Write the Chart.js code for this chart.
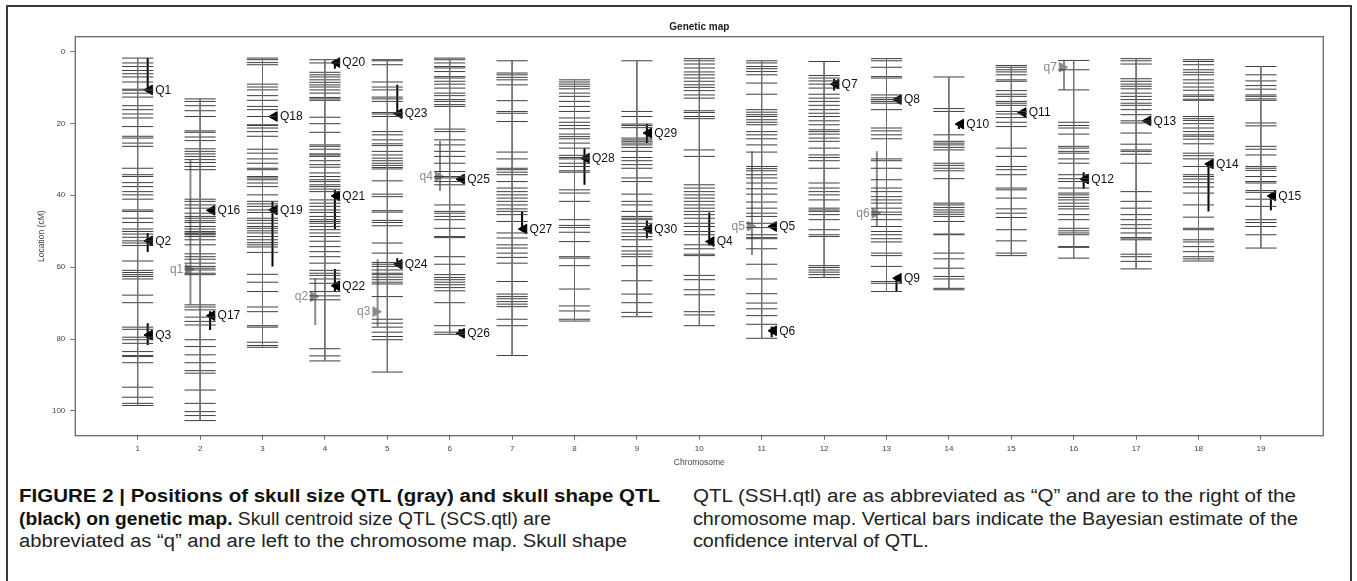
<!DOCTYPE html>
<html>
<head>
<meta charset="utf-8">
<script src="https://cdn.jsdelivr.net/npm/chart.js@4.4.1/dist/chart.umd.min.js"></script>
<style>
  html, body { margin: 0; padding: 0; background: #fff; width: 1357px; height: 581px; overflow: hidden; }
  #frame { position: absolute; left: 6px; top: 5px; width: 1346px; height: 640px; border: 2px solid #3a3a3a; border-bottom: none; box-sizing: border-box; }
  #wrap { position: absolute; left: 0; top: 0; width: 1357px; height: 475px; }
  .cap { position: absolute; white-space: nowrap; font-family: "Liberation Sans", Arial, sans-serif; font-size: 18px; line-height: 22px; color: #222; transform-origin: 0 50%; }
  .cap b { color: #111; }
</style>
</head>
<body>
<div id="frame"></div>
<div id="wrap"><canvas id="c" width="1357" height="475"></canvas></div>
<div class="cap" data-w="641" style="left:19px; top:485px;"><b>FIGURE 2 | Positions of skull size QTL (gray) and skull shape QTL</b></div>
<div class="cap" data-w="532" style="left:19px; top:508px;"><b>(black) on genetic map.</b> Skull centroid size QTL (SCS.qtl) are</div>
<div class="cap" data-w="608" style="left:19px; top:530px;">abbreviated as “q” and are left to the chromosome map. Skull shape</div>
<div class="cap" data-w="603" style="left:693px; top:485px;">QTL (SSH.qtl) are as abbreviated as “Q” and are to the right of the</div>
<div class="cap" data-w="605" style="left:693px; top:508px;">chromosome map. Vertical bars indicate the Bayesian estimate of the</div>
<div class="cap" data-w="same" style="left:693px; top:530px;">confidence interval of QTL.</div>
<script>
// ---------------- data ----------------
const chartTitle = "Genetic map";
const xAxisTitle = "Chromosome";
const yAxisTitle = "Location (cM)";
const chromosomes = [1,2,3,4,5,6,7,8,9,10,11,12,13,14,15,16,17,18,19];
const yTickValues = [0,20,40,60,80,100];

// marker positions (cM) per chromosome
const markersChr1 = [1.85,3.2,4.2,5.3,6.2,7.1,8.5,10.5,10.8,11.6,12.7,15.1,16.2,17.4,18.5,20.9,23.6,24.1,25.5,26.4,32.5,34.3,34.8,36.5,37.6,39.0,39.9,41.1,44.1,44.5,46.4,47.6,49.4,50.1,50.8,51.7,52.7,53.3,54.0,58.3,60.9,61.5,62.1,62.6,63.3,67.8,69.9,76.7,77.3,79.5,80.2,81.2,83.5,84.6,84.9,86.6,93.4,96.2,97.9,98.5];
const markersChr2 = [13.2,13.9,15.1,16.5,18.1,22.1,22.5,23.8,24.8,27.1,27.8,28.5,29.2,30.1,30.9,32.0,32.9,41.1,41.7,42.7,43.6,45.0,45.9,46.4,47.1,47.6,48.7,49.4,50.1,50.5,50.7,51.0,51.5,52.4,53.8,56.3,57.1,57.8,58.9,59.8,60.3,60.8,61.7,62.1,70.5,71.1,71.9,73.9,75.1,76.1,80.2,82.1,84.4,86.6,88.8,89.5,94.2,97.9,100.2,101.3,102.7];
const markersChr3 = [1.85,2.3,3.1,3.7,9.1,9.9,10.7,12.3,13.6,15.3,16.2,18.1,20.4,20.6,21.3,22.3,23.6,27.2,28.3,29.9,31.1,32.5,32.9,34.8,35.2,35.7,36.6,37.6,39.9,41.7,42.4,43.1,44.1,44.8,46.4,47.0,47.8,48.7,49.2,49.9,50.5,51.5,52.4,53.2,53.8,54.4,55.9,62.0,64.2,66.8,71.1,72.4,76.3,76.7,80.9,81.8,82.3];
const markersChr4 = [2.3,3.2,5.8,6.5,7.1,7.9,8.6,9.3,9.9,10.7,11.6,12.8,13.2,13.6,18.3,20.1,22.5,26.0,26.4,27.2,28.5,28.8,29.2,30.4,31.5,32.2,33.8,34.8,35.7,36.2,37.1,37.6,38.3,39.0,41.3,42.2,43.1,44.1,44.8,45.9,46.8,47.3,47.8,48.7,49.6,50.5,51.5,52.8,54.3,55.7,57.1,58.9,60.9,61.7,62.3,63.3,64.5,66.8,68.0,69.1,82.7,84.7,86.1];
const markersChr5 = [2.3,2.6,3.7,8.5,9.9,10.7,12.7,13.2,13.9,17.0,17.4,18.1,22.3,23.2,24.6,25.7,26.2,27.8,28.8,29.7,30.4,31.1,31.7,32.3,32.7,36.0,39.7,40.4,44.3,44.7,47.0,47.6,48.5,53.3,56.1,58.7,59.2,59.8,60.8,61.7,62.1,62.8,63.5,64.2,64.7,68.2,74.5,75.6,76.7,78.1,79.3,80.2,89.2];
const markersChr6 = [1.85,2.3,3.2,4.2,4.6,5.6,7.0,7.4,8.3,9.1,10.2,11.6,12.3,13.4,13.9,14.8,15.3,21.6,22.3,24.6,26.0,27.8,29.2,31.1,33.4,34.8,35.2,36.2,37.1,42.7,44.5,45.0,45.9,46.8,49.2,51.5,51.8,57.1,59.2,62.1,62.9,63.5,64.2,64.9,65.7,66.6,69.9,76.3,78.1,78.7];
const markersChr7 = [2.6,6.0,6.5,7.2,7.9,9.3,13.7,16.7,17.2,19.5,28.0,29.9,32.5,32.9,33.6,34.3,36.2,38.0,39.0,39.9,40.8,41.7,42.7,43.8,44.5,45.4,47.3,50.5,51.9,53.8,54.7,56.1,57.3,58.9,64.0,67.5,68.2,68.8,69.6,70.3,71.0,74.5,76.3,84.6];
const markersChr8 = [7.9,8.5,9.1,9.7,10.4,11.6,12.5,13.9,15.3,16.7,18.5,19.7,20.6,21.5,23.0,23.7,24.3,25.5,26.9,28.9,29.5,29.9,31.1,32.0,33.2,33.6,38.5,39.4,41.7,46.8,48.4,49.0,50.3,52.9,57.1,57.5,59.6,66.1,70.8,72.2,74.5,75.0];
const markersChr9 = [2.6,16.7,18.1,20.2,20.6,21.2,24.1,24.6,25.0,25.5,26.0,26.7,27.8,29.5,30.4,31.5,32.5,35.2,36.2,39.7,41.7,42.7,44.5,45.9,46.4,46.8,47.8,48.7,49.6,50.5,51.5,52.4,54.3,55.5,56.4,57.1,59.6,63.8,67.5,69.9,72.6,73.8];
const markersChr10 = [2.0,2.6,3.5,4.6,5.7,6.5,7.4,8.3,9.3,10.0,10.9,12.1,13.0,16.5,17.0,18.1,18.7,27.4,29.2,37.1,38.0,39.0,39.9,40.8,41.7,42.7,43.6,44.5,45.4,46.4,47.8,48.7,50.1,51.0,53.8,54.9,56.4,56.8,62.3,63.5,66.3,67.7,72.4,73.3,76.3];
const markersChr11 = [2.6,3.2,4.2,4.8,5.6,6.5,8.8,11.9,16.2,16.9,17.6,18.1,19.0,19.7,20.4,22.3,23.2,24.3,26.0,28.0,32.0,32.6,33.2,34.3,35.2,36.6,38.2,39.7,41.9,43.6,45.0,45.9,47.8,49.0,51.0,51.8,52.1,54.9,59.2,63.3,67.4,70.0,71.6,73.5,75.9,79.8];
const markersChr12 = [2.8,6.7,7.4,8.2,9.1,10.2,11.9,13.0,13.9,15.0,16.2,17.2,18.1,19.3,20.4,21.8,22.3,23.0,24.1,25.0,26.9,28.8,29.5,30.4,32.5,36.6,38.0,39.0,39.9,41.3,43.6,44.1,44.5,45.4,46.8,49.6,51.0,51.5,59.6,60.1,60.8,61.4,62.1,62.9];
const markersChr13 = [2.0,2.6,4.4,7.0,7.4,12.1,12.9,13.4,13.9,14.4,16.2,21.3,22.1,23.2,24.3,29.9,30.4,32.5,35.7,38.0,39.0,40.4,41.3,42.2,43.6,44.7,45.4,46.8,48.7,50.1,51.0,52.1,53.0,56.1,56.8,59.8,64.0,64.5,66.8];
const markersChr14 = [7.1,15.9,16.7,23.2,25.0,25.5,26.0,26.7,27.4,31.1,31.7,32.5,33.2,35.4,42.2,42.7,43.4,44.1,44.7,45.3,45.9,47.3,50.8,51.0,56.1,57.7,60.3,62.6,63.3,65.9,66.3];
const markersChr15 = [3.9,4.4,5.1,5.7,6.5,7.9,8.3,10.9,11.9,12.5,13.9,14.4,15.0,16.7,17.4,18.4,19.7,20.9,26.9,29.2,32.0,32.9,34.3,38.0,38.5,40.8,43.8,45.0,46.2,49.6,52.7,56.1,56.8];
const markersChr16 = [2.5,5.1,10.7,19.7,20.6,21.3,23.0,26.4,26.9,27.8,28.3,29.9,31.1,34.3,35.4,36.2,38.0,39.4,39.9,40.6,41.3,42.2,43.1,43.8,45.4,46.8,49.2,49.9,50.5,51.0,54.3,54.5,57.5];
const markersChr17 = [2.0,2.6,3.5,7.6,8.3,9.1,9.7,10.4,11.6,12.5,13.4,14.4,15.0,16.2,17.6,19.3,19.9,22.7,25.8,27.4,27.8,28.6,31.1,39.0,41.7,43.6,45.4,46.8,48.2,49.2,50.5,51.8,51.9,52.4,56.4,57.1,58.4,60.5];
const markersChr18 = [2.3,2.8,3.7,5.1,5.8,6.5,7.9,8.8,9.9,10.8,12.1,12.5,13.3,13.6,18.1,18.7,19.2,20.1,21.3,22.3,23.2,23.6,24.4,25.7,28.3,29.0,29.9,32.0,34.3,34.8,35.5,36.5,37.7,39.4,42.7,46.1,49.2,49.6,52.4,53.0,54.3,55.7,57.1,57.7,58.3];
const markersChr19 = [4.2,6.5,8.2,9.5,10.5,12.1,12.5,13.2,13.6,19.9,20.7,26.4,27.2,28.8,32.0,32.5,33.1,34.8,36.2,36.6,38.7,39.2,41.1,43.1,46.8,47.6,48.7,51.0,54.7];

// skull shape QTL (black, right of map)
const shapeQtlNames = ["Q1","Q2","Q3","Q4","Q5","Q6","Q7","Q8","Q9","Q10","Q11","Q12","Q13","Q14","Q15","Q16","Q17","Q18","Q19","Q20","Q21","Q22","Q23","Q24","Q25","Q26","Q27","Q28","Q29","Q30"];
const shapeQtlChr   = [1,1,1,10,11,11,12,13,13,14,15,16,17,18,19,2,2,3,3,4,4,4,5,5,6,6,7,8,9,9];
const shapeQtlPos   = [10.7,52.7,78.9,52.9,48.7,77.7,9.1,13.4,63.1,20.2,17.0,35.5,19.3,31.3,40.2,44.2,73.5,18.1,44.1,3.1,40.2,65.2,17.3,59.2,35.5,78.4,49.4,29.7,22.7,49.4];
const shapeQtlLow   = [1.85,50.5,75.6,44.8,48.2,76.5,7.7,12.9,62.4,19.7,16.5,33.6,18.8,31.3,40.2,43.6,72.3,17.6,41.7,2.3,38.5,60.5,9.3,57.5,34.8,77.2,44.5,26.9,20.2,47.0];
const shapeQtlHigh  = [10.8,55.8,81.7,54.0,49.2,79.5,10.9,14.0,66.8,21.6,17.5,38.2,19.8,44.5,44.2,44.8,77.5,18.6,59.8,4.8,49.4,66.8,17.3,60.0,36.2,78.7,49.4,37.1,25.5,52.0];

// skull size QTL (gray, left of map)
const sizeQtlNames = ["q1","q2","q3","q4","q5","q6","q7"];
const sizeQtlChr   = [2,4,5,6,11,13,16];
const sizeQtlPos   = [60.6,68.2,72.4,34.8,48.6,45.0,4.4];
const sizeQtlLow   = [30.1,63.1,57.8,24.9,27.8,27.8,2.5];
const sizeQtlHigh  = [70.3,76.1,76.5,38.8,56.6,48.7,10.7];

// ---------------- build ----------------
const markerSets = [markersChr1,markersChr2,markersChr3,markersChr4,markersChr5,markersChr6,markersChr7,markersChr8,markersChr9,markersChr10,markersChr11,markersChr12,markersChr13,markersChr14,markersChr15,markersChr16,markersChr17,markersChr18,markersChr19];

const HALF = 0.25, BAR_R = 0.16, TRI_R = 0.19, LAB_R = 0.28;
const BAR_L = -0.155, TRI_L = -0.185, LAB_L = -0.27;
const GRAY = '#8a8a8a';

const markerData = [], chromData = [];
markerSets.forEach((arr, i) => {
  const c = chromosomes[i];
  arr.forEach(p => { markerData.push({x: c - HALF, y: p}, {x: c + HALF, y: p}, {x: c, y: null}); });
  chromData.push({x: c, y: Math.min(...arr)}, {x: c, y: Math.max(...arr)}, {x: c, y: null});
});
const shapeBars = [], shapeTri = [];
shapeQtlNames.forEach((n, i) => {
  const c = shapeQtlChr[i];
  shapeBars.push({x: c + BAR_R, y: shapeQtlLow[i]}, {x: c + BAR_R, y: shapeQtlHigh[i]}, {x: c, y: null});
  shapeTri.push({x: c + TRI_R, y: shapeQtlPos[i]});
});
const sizeBars = [], sizeTri = [];
sizeQtlNames.forEach((n, i) => {
  const c = sizeQtlChr[i];
  sizeBars.push({x: c + BAR_L, y: sizeQtlLow[i]}, {x: c + BAR_L, y: sizeQtlHigh[i]}, {x: c, y: null});
  sizeTri.push({x: c + TRI_L, y: sizeQtlPos[i]});
});

const FONT = '"Liberation Sans", Arial, Helvetica, sans-serif';

const decor = {
  id: 'decor',
  beforeDatasetsDraw(chart) {
    const {ctx, chartArea: a} = chart;
    ctx.save();
    ctx.strokeStyle = '#6a6a6a';
    ctx.lineWidth = 1.3;
    ctx.strokeRect(a.left, a.top, a.right - a.left, a.bottom - a.top);
    ctx.restore();
  },
  afterDatasetsDraw(chart) {
    const {ctx, chartArea: a, scales: {x, y}} = chart;
    ctx.save();
    ctx.font = 'bold 10px ' + FONT;
    ctx.fillStyle = '#1a1a1a';
    ctx.textAlign = 'center';
    ctx.textBaseline = 'middle';
    ctx.fillText(chartTitle, (a.left + a.right) / 2, 27);
    ctx.font = '12px ' + FONT;
    ctx.textAlign = 'left';
    ctx.fillStyle = '#111';
    shapeQtlNames.forEach((n, i) => {
      ctx.fillText(n, x.getPixelForValue(shapeQtlChr[i] + LAB_R), y.getPixelForValue(shapeQtlPos[i]) + 0.5);
    });
    ctx.textAlign = 'right';
    ctx.fillStyle = GRAY;
    sizeQtlNames.forEach((n, i) => {
      ctx.fillText(n, x.getPixelForValue(sizeQtlChr[i] + LAB_L), y.getPixelForValue(sizeQtlPos[i]) + 0.5);
    });
    ctx.restore();
  }
};

new Chart(document.getElementById('c'), {
  type: 'scatter',
  data: {
    datasets: [
      {data: chromData, showLine: true, spanGaps: false, borderColor: '#6e6e6e', borderWidth: 1, pointRadius: 0},
      {data: markerData, showLine: true, spanGaps: false, borderColor: '#3e3e3e', borderWidth: 1, pointRadius: 0},
      {data: sizeBars, showLine: true, spanGaps: false, borderColor: GRAY, borderWidth: 2, pointRadius: 0},
      {data: shapeBars, showLine: true, spanGaps: false, borderColor: '#000', borderWidth: 2, pointRadius: 0},
      {data: sizeTri, showLine: false, pointStyle: 'triangle', pointRotation: 90, pointRadius: 5.6, pointBackgroundColor: GRAY, pointBorderColor: GRAY, pointBorderWidth: 1},
      {data: shapeTri, showLine: false, pointStyle: 'triangle', pointRotation: 270, pointRadius: 5.6, pointBackgroundColor: '#000', pointBorderColor: '#000', pointBorderWidth: 1}
    ]
  },
  options: {
    responsive: false,
    animation: false,
    devicePixelRatio: 1,
    events: [],
    layout: {padding: {top: 36.7, right: 33.7, left: 0, bottom: 0}},
    plugins: {legend: {display: false}, tooltip: {enabled: false}, title: {display: false}},
    scales: {
      x: {
        type: 'linear', min: 0, max: 20,
        afterBuildTicks: s => { s.ticks = chromosomes.map(v => ({value: v})); },
        afterFit: s => { s.height = 475 - 435.7; },
        grid: {drawOnChartArea: false, drawTicks: true, tickLength: 4, color: '#6a6a6a'},
        border: {display: false},
        ticks: {font: {size: 8, family: FONT}, color: '#444', padding: 4, maxRotation: 0, autoSkip: false},
        title: {display: true, text: xAxisTitle, font: {size: 8.5, family: FONT}, color: '#444', padding: {top: 0, bottom: 7.5}}
      },
      y: {
        type: 'linear', reverse: true, min: -4.1, max: 106.9,
        afterBuildTicks: s => { s.ticks = yTickValues.map(v => ({value: v})); },
        afterFit: s => { s.width = 75.3; },
        grid: {drawOnChartArea: false, drawTicks: true, tickLength: 5, color: '#6a6a6a'},
        border: {display: false},
        ticks: {font: {size: 8, family: FONT}, color: '#444', padding: 5},
        title: {display: true, text: yAxisTitle, font: {size: 8.5, family: FONT}, color: '#444', padding: {top: 37, bottom: 0}}
      }
    }
  },
  plugins: [decor]
});

// fit caption lines to their measured widths in the figure
let lastScale = 1;
document.querySelectorAll('.cap').forEach(el => {
  const w = el.getBoundingClientRect().width;
  const t = el.dataset.w;
  let s = lastScale;
  if (t !== 'same' && w > 0) s = parseFloat(t) / w;
  lastScale = s;
  el.style.transform = 'scaleX(' + s.toFixed(4) + ')';
});
</script>
</body>
</html>
